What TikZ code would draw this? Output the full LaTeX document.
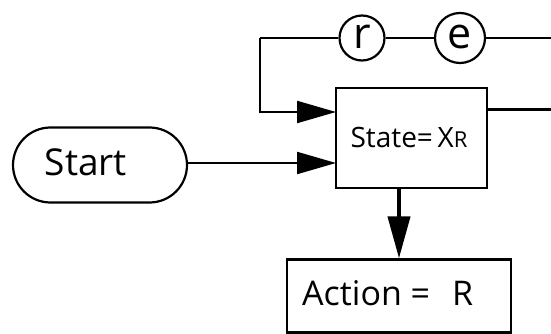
\documentclass[tikz,border=0pt]{standalone}
\usepackage{fontspec}
\setmainfont{Open Sans}
\usetikzlibrary{arrows.meta,shapes.misc}
\begin{document}
\begin{tikzpicture}[x=1pt,y=-1pt,
  box/.style={draw,line width=2.2pt,rectangle,inner sep=0pt},
  term/.style={draw,line width=2.2pt,rounded rectangle,inner sep=0pt,minimum width=174pt,minimum height=75pt},
  ring/.style={draw,line width=2.2pt,circle,inner sep=0pt,font=\fontsize{43}{45}\selectfont},
  wire/.style={line width=2.2pt},
  flow/.style={line width=2.2pt,-{Triangle[length=39pt,width=22pt]}},
  bigflow/.style={line width=4pt,-{Triangle[length=42pt,width=22pt]}}]
\useasboundingbox (0,0) rectangle (551,334);
% state box and action box
\node[box,minimum width=151pt,minimum height=100pt] (st) at (411.5,138) {};
\node[font=\fontsize{28}{30}\selectfont] (stlab) at (409,137) {State=\,X\fontsize{22}{24}\selectfont R};
\node[box,minimum width=224pt,minimum height=73pt] (act) at (399,296) {};
\node[anchor=west,inner sep=0pt,font=\fontsize{34}{36}\selectfont] (actlab) at (302,293) {Action =\hspace{22pt}R};
% start terminal
\node[term] (start) at (100,165) {};
\node[font=\fontsize{37}{40}\selectfont] (startlab) at (86,162) {Start};
% feedback circles
\node[ring,minimum size=45pt] (r) at (362,38) {\raisebox{3pt}{r}};
\node[ring,minimum size=50pt] (e) at (460,38) {\raisebox{3pt}{e}};
% free ends at the right margin and the loop corner
\coordinate (outTop) at (551,38);
\coordinate (outMid) at (551,110);
\coordinate (loop) at (260,38);
\coordinate (inTop) at (336,112);
\coordinate (inStart) at (336,163);
% connectors
\draw[wire] (outTop) -- (e) -- (r) -- (loop);
\draw[flow] (loop) |- (inTop);
\draw[wire,line width=3pt] (st.east |- outMid) -- (outMid);
\draw[flow] (start.east |- inStart) -- (inStart);
\draw[bigflow] (399,188) -- (act.north);
\end{tikzpicture}
\end{document}
